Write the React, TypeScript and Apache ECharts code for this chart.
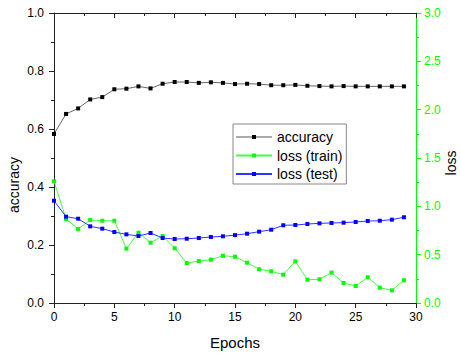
import React, { useEffect, useRef } from "react";
import * as echarts from "echarts";

const epochs = [0, 1, 2, 3, 4, 5, 6, 7, 8, 9, 10, 11, 12, 13, 14, 15, 16, 17, 18, 19, 20, 21, 22, 23, 24, 25, 26, 27, 28, 29];
const accuracy = [0.583, 0.652, 0.671, 0.702, 0.71, 0.737, 0.739, 0.747, 0.74, 0.756, 0.762, 0.762, 0.759, 0.761, 0.759, 0.755, 0.756, 0.755, 0.751, 0.751, 0.752, 0.749, 0.748, 0.747, 0.748, 0.747, 0.747, 0.747, 0.747, 0.747];
const lossTrain = [1.259, 0.869, 0.766, 0.859, 0.851, 0.851, 0.562, 0.727, 0.624, 0.693, 0.566, 0.414, 0.434, 0.448, 0.489, 0.479, 0.417, 0.349, 0.328, 0.293, 0.431, 0.241, 0.245, 0.314, 0.207, 0.176, 0.266, 0.159, 0.131, 0.235];
const lossTest = [1.058, 0.893, 0.872, 0.793, 0.769, 0.734, 0.71, 0.693, 0.724, 0.672, 0.662, 0.665, 0.672, 0.683, 0.69, 0.702, 0.717, 0.738, 0.758, 0.804, 0.807, 0.817, 0.824, 0.828, 0.831, 0.838, 0.848, 0.851, 0.862, 0.887];
const seriesNames = ["accuracy", "loss (train)", "loss (test)"];

const FONT = "'Liberation Sans', Arial, sans-serif";
const GREEN = "#00ff00";
const AXIS = "#222";

export default function App() {
  const ref = useRef<HTMLDivElement>(null);
  useEffect(() => {
    if (!ref.current) return;
    const chart = echarts.init(ref.current, null, { renderer: "svg" });
    const pair = (vals: number[]) => epochs.map((e, i) => [e, vals[i]]);
    chart.setOption({
      animation: false,
      textStyle: { fontFamily: FONT },
      grid: { left: 54, top: 13, right: 44, bottom: 51 },
      legend: {
        orient: "vertical",
        left: 233,
        top: 124,
        data: [
          { name: seriesNames[0], lineStyle: { color: "#aaa", width: 2 } },
          { name: seriesNames[1] },
          { name: seriesNames[2] },
        ],
        itemWidth: 36,
        itemHeight: 5,
        itemGap: 4.5,
        padding: [6, 4, 3, 2],
        borderColor: "#888",
        borderWidth: 1,
        textStyle: { fontSize: 14, color: "#000", fontFamily: FONT, lineHeight: 14 },
      },
      xAxis: [
        {
          type: "value",
          min: 0,
          max: 30,
          interval: 5,
          position: "bottom",
          splitLine: { show: false },
          axisLine: { onZero: false, lineStyle: { color: AXIS } },
          axisTick: { inside: false, length: 5, lineStyle: { color: AXIS } },
          minorTick: { show: true, splitNumber: 2, length: 3, lineStyle: { color: AXIS } },
          axisLabel: { fontSize: 12, color: "#000", margin: 8, fontFamily: FONT },
        },
        {
          type: "value",
          min: 0,
          max: 30,
          interval: 5,
          position: "top",
          splitLine: { show: false },
          axisLine: { onZero: false, lineStyle: { color: AXIS } },
          axisTick: { inside: true, length: 5, lineStyle: { color: AXIS } },
          minorTick: { show: true, splitNumber: 2, length: 3, lineStyle: { color: AXIS } },
          axisLabel: { show: false },
        },
      ],
      yAxis: [
        {
          type: "value",
          min: 0,
          max: 1,
          interval: 0.2,
          position: "left",
          splitLine: { show: false },
          axisLine: { show: true, onZero: false, lineStyle: { color: AXIS } },
          axisTick: { show: true, inside: false, length: 5, lineStyle: { color: AXIS } },
          minorTick: { show: true, splitNumber: 2, length: 3, lineStyle: { color: AXIS } },
          axisLabel: { fontSize: 12, color: "#000", margin: 10, fontFamily: FONT, formatter: (v: number) => v.toFixed(1) },
        },
        {
          type: "value",
          min: 0,
          max: 3,
          interval: 0.5,
          position: "right",
          splitLine: { show: false },
          axisLine: { show: true, onZero: false, lineStyle: { color: GREEN } },
          axisTick: { show: true, inside: false, length: 5, lineStyle: { color: GREEN } },
          minorTick: { show: true, splitNumber: 2, length: 3, lineStyle: { color: GREEN } },
          axisLabel: { fontSize: 12, color: GREEN, margin: 8, fontFamily: FONT, formatter: (v: number) => v.toFixed(1) },
        },
      ],
      series: [
        {
          name: seriesNames[0],
          type: "line",
          xAxisIndex: 0,
          yAxisIndex: 0,
          data: pair(accuracy),
          symbol: "rect",
          symbolSize: 4,
          lineStyle: { color: "#666", width: 1 },
          itemStyle: { color: "#000" },
        },
        {
          name: seriesNames[1],
          type: "line",
          xAxisIndex: 0,
          yAxisIndex: 1,
          data: pair(lossTrain),
          symbol: "rect",
          symbolSize: 4,
          lineStyle: { color: "#44ff44", width: 1 },
          itemStyle: { color: GREEN },
        },
        {
          name: seriesNames[2],
          type: "line",
          xAxisIndex: 0,
          yAxisIndex: 1,
          data: pair(lossTest),
          symbol: "rect",
          symbolSize: 4,
          lineStyle: { color: "#3333ff", width: 1 },
          itemStyle: { color: "#0000ff" },
        },
      ],
      graphic: [
        {
          type: "text",
          x: 14,
          y: 185,
          rotation: Math.PI / 2,
          style: { text: "accuracy", fontSize: 14, fontFamily: FONT, fill: "#000", align: "center", verticalAlign: "middle" },
        },
        {
          type: "text",
          x: 451,
          y: 163,
          rotation: Math.PI / 2,
          style: { text: "loss", fontSize: 14, fontFamily: FONT, fill: "#000", align: "center", verticalAlign: "middle" },
        },
        {
          type: "text",
          x: 235,
          y: 342,
          style: { text: "Epochs", fontSize: 15, fontFamily: FONT, fill: "#000", align: "center", verticalAlign: "middle" },
        },
      ],
    });
    return () => chart.dispose();
  }, []);
  return <div ref={ref} style={{ width: 460, height: 354, position: "absolute", left: 0, top: 0 }} />;
}
